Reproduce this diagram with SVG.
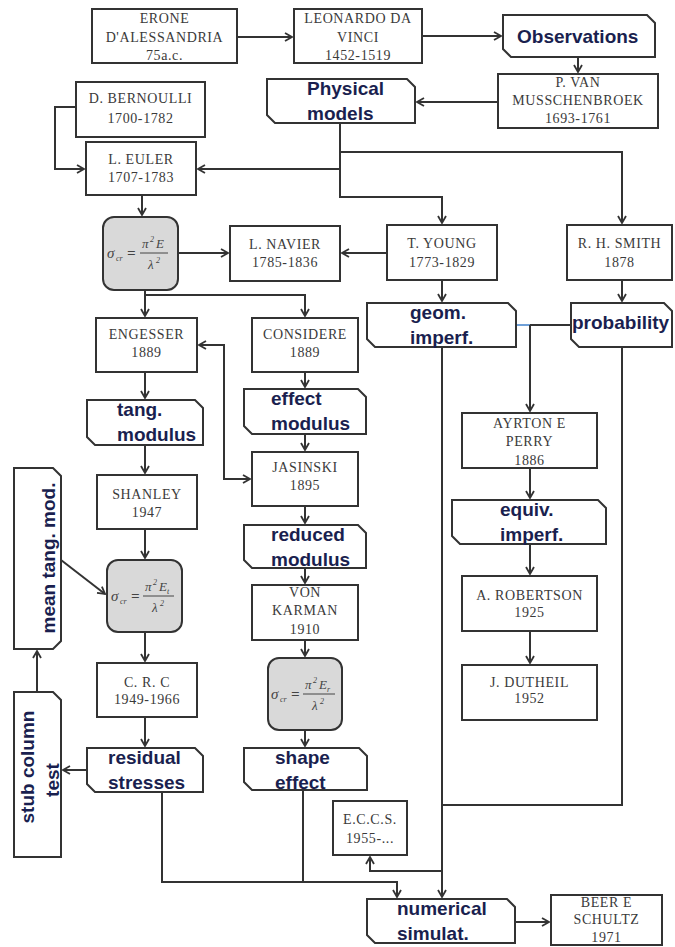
<svg xmlns="http://www.w3.org/2000/svg" width="675" height="947" viewBox="0 0 675 947">
<style>
.n{fill:#fff;stroke:#333;stroke-width:2}
.g{fill:#d9d9d9;stroke:#333;stroke-width:2}
.t{font-family:"Liberation Serif","Times New Roman",serif;font-size:14px;fill:#3a3a3a;text-anchor:middle;letter-spacing:0.6px}
.b{font-family:"Liberation Sans",Arial,sans-serif;font-size:19px;font-weight:bold;fill:#1a1f4f}
.f{font-family:"Liberation Serif","Times New Roman",serif;font-style:italic;fill:#444}
.c path{fill:none;stroke:#333;stroke-width:2}
</style>
<defs>
<marker id="a" markerUnits="userSpaceOnUse" markerWidth="10" markerHeight="10" refX="8" refY="5" orient="auto-start-reverse">
<path d="M1,1 L8,5 L1,9" fill="none" stroke="#333" stroke-width="1.8"/>
</marker>
</defs>
<g class="c" id="connectors">
<path d="M237 37 H292" marker-end="url(#a)"/>
<path d="M422 36 H501" marker-end="url(#a)"/>
<path d="M578 57 V72" marker-end="url(#a)"/>
<path d="M498 102 H417" marker-end="url(#a)"/>
<path d="M76 107 H55 V169 H84" marker-end="url(#a)"/>
<path d="M340 123 V197 H442 V223" marker-end="url(#a)"/>
<path d="M340 152 H622 V223" marker-end="url(#a)"/>
<path d="M340 169 H198" marker-end="url(#a)"/>
<path d="M142 195 V215" marker-end="url(#a)"/>
<path d="M178 253 H228" marker-end="url(#a)"/>
<path d="M387 253 H342" marker-end="url(#a)"/>
<path d="M145 290 V316" marker-end="url(#a)"/>
<path d="M145 295 H305 V316" marker-end="url(#a)"/>
<path d="M442 280 V301" marker-end="url(#a)"/>
<path d="M622 280 V301" marker-end="url(#a)"/>
<path d="M516 325 H530" style="stroke:#6fa0d8"/>
<path d="M530 325 H571"/>
<path d="M530 325 V411" marker-end="url(#a)"/>
<path d="M530 468 V498" marker-end="url(#a)"/>
<path d="M530 544 V574" marker-end="url(#a)"/>
<path d="M530 631 V663" marker-end="url(#a)"/>
<path d="M145 372 V398" marker-end="url(#a)"/>
<path d="M145 445 V473" marker-end="url(#a)"/>
<path d="M145 529 V558" marker-end="url(#a)"/>
<path d="M145 632 V661" marker-end="url(#a)"/>
<path d="M145 717 V746" marker-end="url(#a)"/>
<path d="M305 372 V387" marker-end="url(#a)"/>
<path d="M305 434 V450" marker-end="url(#a)"/>
<path d="M305 506 V523" marker-end="url(#a)"/>
<path d="M305 568 V583" marker-end="url(#a)"/>
<path d="M305 640 V656" marker-end="url(#a)"/>
<path d="M305 730 V746" marker-end="url(#a)"/>
<path d="M199 345 H224 V479 H250" marker-start="url(#a)" marker-end="url(#a)"/>
<path d="M61 560 L105 594" marker-end="url(#a)"/>
<path d="M87 770 H63" marker-end="url(#a)"/>
<path d="M37 692 V651" marker-end="url(#a)"/>
<path d="M162 792 V882 H397 V897" marker-end="url(#a)"/>
<path d="M303 790 V882"/>
<path d="M442 347 V897" marker-end="url(#a)"/>
<path d="M622 347 V805 H442"/>
<path d="M442 871 H370 V857" marker-end="url(#a)"/>
<path d="M515 922 H549" marker-end="url(#a)"/>
</g>
<g id="erone"><rect class="n" x="92" y="9" width="145" height="54"/><text class="t" x="164.5" y="23">ERONE</text><text class="t" x="164.5" y="42">D'ALESSANDRIA</text><text class="t" x="164.5" y="60">75a.c.</text></g>
<g id="leonardo"><rect class="n" x="294" y="9" width="128" height="54"/><text class="t" x="358" y="23">LEONARDO DA</text><text class="t" x="358" y="42">VINCI</text><text class="t" x="358" y="60">1452-1519</text></g>
<g id="observations"><path class="n" d="M503 15 H647 L655 23 V57 H511 L503 49 Z"/><text class="b" x="517" y="43">Observations</text></g>
<g id="musschenbroek"><rect class="n" x="498" y="74" width="160" height="54"/><text class="t" x="578" y="87">P. VAN</text><text class="t" x="578" y="105">MUSSCHENBROEK</text><text class="t" x="578" y="123">1693-1761</text></g>
<g id="physical"><path class="n" d="M267 79 H407 L415 87 V123 H275 L267 115 Z"/><text class="b" x="307" y="95">Physical</text><text class="b" x="307" y="120">models</text></g>
<g id="bernoulli"><rect class="n" x="76" y="82" width="129" height="55"/><text class="t" x="140.5" y="103">D. BERNOULLI</text><text class="t" x="140.5" y="123">1700-1782</text></g>
<g id="euler"><rect class="n" x="86" y="142" width="110" height="53"/><text class="t" x="141" y="164">L. EULER</text><text class="t" x="141" y="182">1707-1783</text></g>
<g id="formula1"><rect class="g" x="103" y="217" width="75" height="73" rx="11"/><text class="f" x="107" y="258" font-size="15">σ</text><text class="f" x="116" y="261" font-size="8">cr</text><text class="f" x="127" y="258" font-size="15" font-style="normal" font-weight="bold">=</text><text class="f" x="142" y="248" font-size="13">π</text><text class="f" x="150" y="242" font-size="8">2</text><text class="f" x="156" y="248" font-size="13">E</text><path d="M140 253 H168" stroke="#444" stroke-width="1"/><text class="f" x="148" y="269" font-size="13">λ</text><text class="f" x="156" y="263" font-size="8">2</text></g>
<g id="navier"><rect class="n" x="230" y="226" width="110" height="55"/><text class="t" x="285" y="249">L. NAVIER</text><text class="t" x="285" y="267">1785-1836</text></g>
<g id="young"><rect class="n" x="387" y="225" width="110" height="55"/><text class="t" x="442" y="248">T. YOUNG</text><text class="t" x="442" y="267">1773-1829</text></g>
<g id="smith"><rect class="n" x="567" y="225" width="105" height="55"/><text class="t" x="619.5" y="248">R. H. SMITH</text><text class="t" x="619.5" y="267">1878</text></g>
<g id="geom"><path class="n" d="M367 303 H508 L516 311 V347 H375 L367 339 Z"/><text class="b" x="410" y="319">geom.</text><text class="b" x="410" y="344">imperf.</text></g>
<g id="probability"><path class="n" d="M571 303 H664 L672 311 V347 H579 L571 339 Z"/><text class="b" x="572" y="329">probability</text></g>
<g id="engesser"><rect class="n" x="96" y="318" width="101" height="54"/><text class="t" x="146.5" y="339">ENGESSER</text><text class="t" x="146.5" y="357">1889</text></g>
<g id="considere"><rect class="n" x="252" y="318" width="106" height="54"/><text class="t" x="305" y="339">CONSIDERE</text><text class="t" x="305" y="357">1889</text></g>
<g id="tang"><path class="n" d="M87 400 H195 L203 408 V445 H95 L87 437 Z"/><text class="b" x="117" y="416">tang.</text><text class="b" x="117" y="441">modulus</text></g>
<g id="effect"><path class="n" d="M244 389 H358 L366 397 V434 H252 L244 426 Z"/><text class="b" x="271" y="405">effect</text><text class="b" x="271" y="430">modulus</text></g>
<g id="jasinski"><rect class="n" x="252" y="452" width="106" height="54"/><text class="t" x="305" y="472">JASINSKI</text><text class="t" x="305" y="490">1895</text></g>
<g id="shanley"><rect class="n" x="97" y="475" width="100" height="54"/><text class="t" x="147" y="499">SHANLEY</text><text class="t" x="147" y="517">1947</text></g>
<g id="reduced"><path class="n" d="M244 525 H358 L366 533 V568 H252 L244 560 Z"/><text class="b" x="271" y="541">reduced</text><text class="b" x="271" y="566">modulus</text></g>
<g id="meantang"><path class="n" d="M14 468 H53 L61 476 V641 L53 649 H14 Z"/><text class="b" transform="translate(55,558) rotate(-90)" text-anchor="middle">mean tang. mod.</text></g>
<g id="formula2"><rect class="g" x="107" y="560" width="75" height="72" rx="11"/><text class="f" x="111" y="601" font-size="15">σ</text><text class="f" x="120" y="604" font-size="8">cr</text><text class="f" x="131" y="601" font-size="15" font-style="normal" font-weight="bold">=</text><text class="f" x="145" y="591" font-size="13">π</text><text class="f" x="153" y="585" font-size="8">2</text><text class="f" x="159" y="591" font-size="13">E</text><text class="f" x="167" y="594" font-size="8">t</text><path d="M143 596 H174" stroke="#444" stroke-width="1"/><text class="f" x="152" y="612" font-size="13">λ</text><text class="f" x="160" y="606" font-size="8">2</text></g>
<g id="vonkarman"><rect class="n" x="252" y="585" width="106" height="55"/><text class="t" x="305" y="597">VON</text><text class="t" x="305" y="615">KARMAN</text><text class="t" x="305" y="634">1910</text></g>
<g id="formula3"><rect class="g" x="268" y="658" width="74" height="72" rx="11"/><text class="f" x="271" y="699" font-size="15">σ</text><text class="f" x="280" y="702" font-size="8">cr</text><text class="f" x="291" y="699" font-size="15" font-style="normal" font-weight="bold">=</text><text class="f" x="305" y="689" font-size="13">π</text><text class="f" x="313" y="683" font-size="8">2</text><text class="f" x="319" y="689" font-size="13">E</text><text class="f" x="327" y="692" font-size="8">r</text><path d="M303 694 H335" stroke="#444" stroke-width="1"/><text class="f" x="312" y="710" font-size="13">λ</text><text class="f" x="320" y="704" font-size="8">2</text></g>
<g id="crc"><rect class="n" x="97" y="663" width="100" height="54"/><text class="t" x="147" y="687">C. R. C</text><text class="t" x="147" y="704">1949-1966</text></g>
<g id="stub"><path class="n" d="M14 692 H53 L61 700 V857 H14 Z"/><text class="b" transform="translate(34,767) rotate(-90)" text-anchor="middle">stub column</text><text class="b" transform="translate(59,780) rotate(-90)" text-anchor="middle">test</text></g>
<g id="residual"><path class="n" d="M87 748 H195 L203 756 V792 H95 L87 784 Z"/><text class="b" x="108" y="764">residual</text><text class="b" x="108" y="789">stresses</text></g>
<g id="shape"><path class="n" d="M244 748 H359 L367 756 V790 H252 L244 782 Z"/><text class="b" x="275" y="764">shape</text><text class="b" x="275" y="789">effect</text></g>
<g id="ayrton"><rect class="n" x="462" y="413" width="135" height="55"/><text class="t" x="529.5" y="428">AYRTON E</text><text class="t" x="529.5" y="446">PERRY</text><text class="t" x="529.5" y="465">1886</text></g>
<g id="equiv"><path class="n" d="M452 500 H598 L606 508 V544 H460 L452 536 Z"/><text class="b" x="500" y="516">equiv.</text><text class="b" x="500" y="541">imperf.</text></g>
<g id="robertson"><rect class="n" x="462" y="576" width="135" height="55"/><text class="t" x="529.5" y="600">A. ROBERTSON</text><text class="t" x="529.5" y="617">1925</text></g>
<g id="dutheil"><rect class="n" x="462" y="665" width="135" height="55"/><text class="t" x="529.5" y="687">J. DUTHEIL</text><text class="t" x="529.5" y="703">1952</text></g>
<g id="eccs"><rect class="n" x="333" y="801" width="74" height="54"/><text class="t" x="370" y="824">E.C.C.S.</text><text class="t" x="370" y="843">1955-...</text></g>
<g id="numerical"><path class="n" d="M367 899 H507 L515 907 V943 H375 L367 935 Z"/><text class="b" x="397" y="915">numerical</text><text class="b" x="397" y="940">simulat.</text></g>
<g id="beer"><rect class="n" x="551" y="895" width="111" height="50"/><text class="t" x="606.5" y="907">BEER E</text><text class="t" x="606.5" y="924">SCHULTZ</text><text class="t" x="606.5" y="942">1971</text></g>
</svg>
